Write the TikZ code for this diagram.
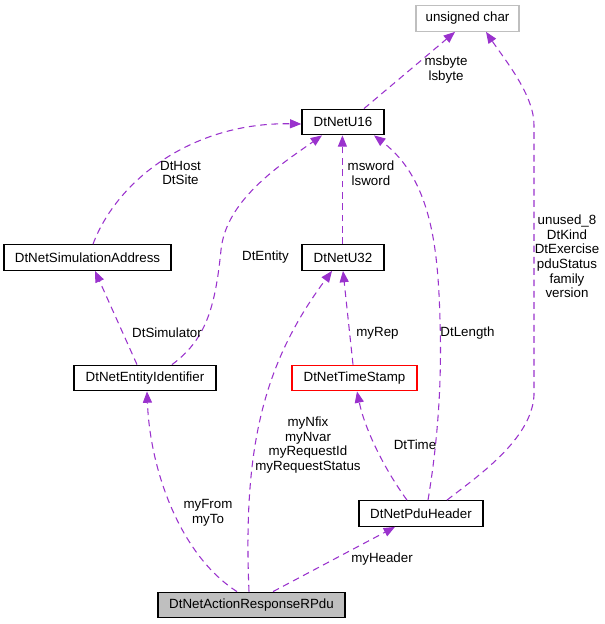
\documentclass[tikz,border=0pt]{standalone}
\usepackage{fontspec}
\setmainfont{Liberation Sans}
\usetikzlibrary{arrows.meta,calc}
\definecolor{edgec}{HTML}{9A32CD}
\definecolor{grayb}{HTML}{BFBFBF}
\tikzset{
  cls/.style={draw=black,line width=1pt,inner sep=0pt,minimum height=19.1pt,font=\fontsize{10pt}{11pt}\selectfont},
  lbl/.style={inner sep=0pt,align=center,font=\fontsize{10pt}{11pt}\selectfont},
  rel/.style={draw=edgec,line width=0.8pt,dash pattern=on 5pt off 3.5pt,-{Triangle[length=8.5pt,width=6.8pt]}},
}
\begin{document}
\begin{tikzpicture}[x=0.75pt,y=-0.75pt]
\useasboundingbox (0,0) rectangle (604,624);
% classes
\node[cls,draw=grayb,minimum width=77.25pt] (uc) at (467.5,18.5) {unsigned char};
\node[cls,minimum width=61.5pt] (u16) at (343,122) {DtNetU16};
\node[cls,minimum width=125.25pt] (sa) at (87.5,257.5) {DtNetSimulationAddress};
\node[cls,minimum width=61.5pt] (u32) at (343,257.5) {DtNetU32};
\node[cls,minimum width=106.5pt] (ei) at (145,378) {DtNetEntityIdentifier};
\node[cls,draw=red,minimum width=93.75pt] (ts) at (354.5,378) {DtNetTimeStamp};
\node[cls,minimum width=93pt] (ph) at (421,513.5) {DtNetPduHeader};
\node[cls,fill=grayb,minimum width=140.25pt] (ar) at (251.5,605) {DtNetActionResponseRPdu};
% relations
\draw[rel] ($(u16.north)+(21,0)$) -- ($(uc.south)+(-12.5,0)$);
\draw[rel] ($(sa.north)+(5.5,0)$) .. controls (118,178) and (195,122) .. ($(u16.west)+(0,2)$);
\draw[rel] ($(ei.north)+(27,0)$) .. controls (205,340) and (215,310) .. (221,250) .. controls (226,200) and (280,165) .. ($(u16.south)+(-21,0)$);
\draw[rel] ($(ei.north)+(-8,0)$) -- ($(sa.south)+(7.5,0)$);
\draw[rel] ($(u32.north)+(-0.6,0)$) -- ($(u16.south)+(-0.6,0)$);
\draw[rel] ($(ph.north)+(7,0)$) .. controls (438,440) and (442,380) .. (440,320) .. controls (438,250) and (432,180) .. ($(u16.south)+(31,0)$);
\draw[rel] ($(ph.north)+(26,0)$) .. controls (475,478) and (532,440) .. (534,395) -- (534,125) .. controls (534,95) and (505,60) .. ($(uc.south)+(18.5,0)$);
\draw[rel] ($(ts.north)+(-1.5,0)$) -- (u32.south);
\draw[rel] ($(ph.north)+(-14,0)$) .. controls (385,470) and (365,430) .. ($(ts.south)+(2.5,0)$);
\draw[rel] ($(ar.north)+(-14.5,0)$) .. controls (180,555) and (150,470) .. ($(ei.south)+(2,0)$);
\draw[rel] ($(ar.north)+(-2.5,0)$) .. controls (243,450) and (262,365) .. ($(u32.south)+(-11,0)$);
\draw[rel] ($(ar.north)+(21.5,0)$) -- ($(ph.south)+(-26,0)$);
% labels
\node[lbl] (l1) at (446,69.5) {msbyte\\lsbyte};
\node[lbl] (l2) at (180.5,173) {DtHost\\DtSite};
\node[lbl] (l3) at (265.5,257) {DtEntity};
\node[lbl] (l4) at (167,333) {DtSimulator};
\node[lbl] (l5) at (371,173.5) {msword\\lsword};
\node[lbl] (l6) at (467.5,333) {DtLength};
\node[lbl] (l7) at (567,256.5) {unused\_8\\DtKind\\DtExercise\\pduStatus\\family\\version};
\node[lbl] (l8) at (377.5,333) {myRep};
\node[lbl] (l9) at (415,445) {DtTime};
\node[lbl] (l10) at (208,512.5) {myFrom\\myTo};
\node[lbl] (l11) at (308,445) {myNfix\\myNvar\\myRequestId\\myRequestStatus};
\node[lbl] (l12) at (382,559) {myHeader};
\end{tikzpicture}
\end{document}
